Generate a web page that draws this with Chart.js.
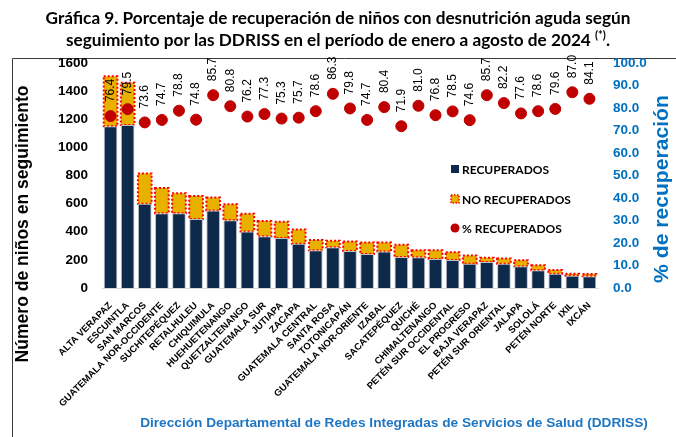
<!DOCTYPE html>
<html>
<head>
<meta charset="utf-8">
<script src="https://cdn.jsdelivr.net/npm/chart.js@4.4.1/dist/chart.umd.min.js"></script>
<style>
    html, body { margin: 0; background: #fff; }
</style>
</head>
<body>
<canvas id="grafica" width="676" height="437"></canvas>
<script>
// Datos
const categorias = [
    'ALTA VERAPAZ', 'ESCUINTLA', 'SAN MARCOS', 'GUATEMALA NOR-OCCIDENTE', 'SUCHITEPÉQUEZ',
    'RETALHULEU', 'CHIQUIMULA', 'HUEHUETENANGO', 'QUETZALTENANGO', 'GUATEMALA SUR',
    'JUTIAPA', 'ZACAPA', 'GUATEMALA CENTRAL', 'SANTA ROSA', 'TOTONICAPÁN',
    'GUATEMALA NOR-ORIENTE', 'IZABAL', 'SACATEPÉQUEZ', 'QUICHÉ', 'CHIMALTENANGO',
    'PETÉN SUR OCCIDENTAL', 'EL PROGRESO', 'BAJA VERAPAZ', 'PETÉN SUR ORIENTAL', 'JALAPA',
    'SOLOLÁ', 'PETÉN NORTE', 'IXIL', 'IXCÁN'
];
const recuperados = [1150, 1160, 600, 532, 531, 490, 551, 481, 402, 368, 355, 315, 268, 290, 264,
    242, 260, 221, 218, 206, 200, 172, 185, 173, 154, 127, 102, 88, 84];
const noRecuperados = [355, 300, 215, 180, 143, 165, 92, 114, 126, 108, 116, 101, 73, 46, 67,
    82, 63, 86, 51, 62, 55, 59, 31, 37, 44, 35, 26, 13, 16];
const porcentaje = [76.4, 79.5, 73.6, 74.7, 78.8, 74.8, 85.7, 80.8, 76.2, 77.3, 75.3, 75.7, 78.6, 86.3, 79.8,
    74.7, 80.4, 71.9, 81.0, 76.8, 78.5, 74.6, 85.7, 82.2, 77.6, 78.6, 79.6, 87.0, 84.1];

const AZUL_OSCURO = '#0E2A4A';
const AMARILLO = '#E8B100';
const ROJO = '#C00000';
const AZUL = '#0070C0';

// Ajusta el tamaño de letra para que el texto ocupe el ancho deseado
function ajustarFuente(ctx, texto, estilo, familia, ancho) {
    ctx.font = estilo + ' 20px ' + familia;
    return 20 * ancho / ctx.measureText(texto).width;
}

const extras = {
    id: 'extras',
    beforeDraw(chart) {
        const ctx = chart.ctx;
        ctx.save();
        ctx.fillStyle = '#fff';
        ctx.fillRect(0, 0, chart.width, chart.height);
        // marco del area de la grafica
        ctx.strokeStyle = '#3a3a3a';
        ctx.lineWidth = 1;
        ctx.beginPath();
        ctx.moveTo(12.5, chart.height);
        ctx.lineTo(12.5, 58.5);
        ctx.lineTo(chart.width, 58.5);
        ctx.stroke();
        ctx.restore();
    },
    afterDatasetDraw(chart, args) {
        // borde punteado rojo de los NO RECUPERADOS
        if (args.index !== 1) return;
        const ctx = chart.ctx;
        ctx.save();
        ctx.strokeStyle = '#FF0000';
        ctx.lineWidth = 2;
        ctx.setLineDash([2, 2]);
        args.meta.data.forEach(bar => {
            const p = bar.getProps(['x', 'y', 'base', 'width'], true);
            ctx.strokeRect(p.x - p.width / 2, p.y, p.width, p.base - p.y);
        });
        ctx.restore();
    },
    afterDraw(chart) {
        const ctx = chart.ctx;
        ctx.save();

        // titulo
        const fam = 'Lato, "Open Sans", sans-serif';
        const linea1 = 'Gráfica 9. Porcentaje de recuperación de niños con desnutrición aguda según';
        const linea2 = 'seguimiento por las DDRISS en el período de enero a agosto de 2024 ';
        const tam = ajustarFuente(ctx, linea1, 'bold', fam, 585);
        ctx.fillStyle = '#000';
        ctx.textBaseline = 'middle';
        ctx.textAlign = 'center';
        ctx.font = 'bold ' + tam + 'px ' + fam;
        ctx.fillText(linea1, 338, 18);
        const w2 = ctx.measureText(linea2).width;
        ctx.font = 'bold ' + (tam * 0.65) + 'px ' + fam;
        const wSup = ctx.measureText('(*)').width;
        ctx.font = 'bold ' + tam + 'px ' + fam;
        const wPunto = ctx.measureText('.').width;
        let x0 = 338 - (w2 + wSup + wPunto) / 2;
        ctx.textAlign = 'left';
        ctx.fillText(linea2, x0, 40);
        ctx.fillText('.', x0 + w2 + wSup, 40);
        ctx.font = 'bold ' + (tam * 0.65) + 'px ' + fam;
        ctx.fillText('(*)', x0 + w2, 35);

        // titulos de los ejes
        const ejeIzq = 'Número de niños en seguimiento';
        ctx.font = 'bold ' + ajustarFuente(ctx, ejeIzq, 'bold', '"Liberation Sans", Arial', 277) + 'px "Liberation Sans", Arial';
        ctx.textAlign = 'center';
        ctx.save();
        ctx.translate(23, 224);
        ctx.rotate(-Math.PI / 2);
        ctx.fillText(ejeIzq, 0, 0);
        ctx.restore();

        const ejeDer = '% de recuperación';
        ctx.font = 'bold ' + ajustarFuente(ctx, ejeDer, 'bold', '"Liberation Sans", Arial', 188) + 'px "Liberation Sans", Arial';
        ctx.fillStyle = AZUL;
        ctx.save();
        ctx.translate(662, 189);
        ctx.rotate(-Math.PI / 2);
        ctx.fillText(ejeDer, 0, 0);
        ctx.restore();

        // etiquetas de porcentaje
        ctx.fillStyle = '#000';
        ctx.font = '12px "Liberation Sans", Arial';
        ctx.textAlign = 'left';
        chart.getDatasetMeta(2).data.forEach((pt, i) => {
            ctx.save();
            ctx.translate(pt.x, pt.y - 14);
            ctx.rotate(-Math.PI / 2);
            ctx.fillText(porcentaje[i].toFixed(1), 0, 0);
            ctx.restore();
        });

        // leyenda
        const leyenda = ['RECUPERADOS', 'NO RECUPERADOS', '% RECUPERADOS'];
        const filas = [169, 199, 228];
        ctx.font = 'bold 12px ' + fam;
        filas.forEach((y, i) => {
            if (i === 0) {
                ctx.fillStyle = AZUL_OSCURO;
                ctx.fillRect(451, y - 4, 8, 8);
            } else if (i === 1) {
                ctx.fillStyle = AMARILLO;
                ctx.fillRect(451, y - 4, 8, 8);
                ctx.strokeStyle = '#FF0000';
                ctx.lineWidth = 1.5;
                ctx.setLineDash([1.5, 1.5]);
                ctx.strokeRect(451, y - 4, 8, 8);
                ctx.setLineDash([]);
            } else {
                ctx.fillStyle = ROJO;
                ctx.beginPath();
                ctx.arc(455, y, 4.5, 0, Math.PI * 2);
                ctx.fill();
            }
            ctx.fillStyle = '#000';
            ctx.fillText(leyenda[i], 462, y + 1);
        });

        // pie
        const pie = 'Dirección Departamental de Redes Integradas de Servicios de Salud (DDRISS)';
        ctx.font = 'bold ' + ajustarFuente(ctx, pie, 'bold', '"Liberation Sans", Arial', 508) + 'px "Liberation Sans", Arial';
        ctx.fillStyle = '#1F77C4';
        ctx.textAlign = 'center';
        ctx.fillText(pie, 394, 423);
        ctx.restore();
    }
};

const ctx = document.getElementById('grafica').getContext('2d');
const grafica = new Chart(ctx, {
    type: 'bar',
    data: {
        labels: categorias,
        datasets: [
            {
                label: 'RECUPERADOS',
                data: recuperados,
                backgroundColor: AZUL_OSCURO,
                borderColor: '#B8C2CE',
                borderWidth: 1,
                barPercentage: 0.8,
                categoryPercentage: 1,
                yAxisID: 'y',
                order: 1
            },
            {
                label: 'NO RECUPERADOS',
                data: noRecuperados,
                backgroundColor: AMARILLO,
                borderWidth: 0,
                barPercentage: 0.8,
                categoryPercentage: 1,
                yAxisID: 'y',
                order: 1
            },
            {
                type: 'line',
                label: '% RECUPERADOS',
                data: porcentaje,
                showLine: false,
                pointRadius: 5.5,
                pointHoverRadius: 5.5,
                pointBackgroundColor: ROJO,
                pointBorderColor: ROJO,
                yAxisID: 'y1',
                order: 0
            }
        ]
    },
    options: {
        responsive: false,
        animation: false,
        layout: { padding: { top: 63, left: 0, right: 0, bottom: 0 } },
        plugins: {
            legend: { display: false },
            tooltip: { enabled: false }
        },
        scales: {
            x: {
                stacked: true,
                offset: true,
                grid: { display: false },
                border: { display: true, color: '#D9D9D9', width: 1 },
                ticks: {
                    autoSkip: false,
                    minRotation: 45,
                    maxRotation: 45,
                    padding: 4,
                    color: '#000',
                    font: { family: '"Liberation Sans", Arial', weight: 'bold', size: 9.5 }
                },
                afterFit(scale) { scale.height = 149; }
            },
            y: {
                stacked: true,
                min: 0,
                max: 1600,
                grid: { display: false, drawTicks: false },
                border: { display: false },
                ticks: {
                    stepSize: 200,
                    padding: 14,
                    color: '#000',
                    font: { family: '"Liberation Sans", Arial', weight: 'bold', size: 13.5 },
                    callback: v => String(v)
                },
                afterFit(scale) { scale.width = 102; }
            },
            y1: {
                position: 'right',
                min: 0,
                max: 100,
                grid: { display: false, drawTicks: false },
                border: { display: false },
                ticks: {
                    stepSize: 10,
                    padding: 15,
                    color: AZUL,
                    font: { family: '"Liberation Sans", Arial', weight: 'bold', size: 13.5 },
                    callback: v => v.toFixed(1)
                },
                afterFit(scale) { scale.width = 78; }
            }
        }
    },
    plugins: [extras]
});
</script>
</body>
</html>
